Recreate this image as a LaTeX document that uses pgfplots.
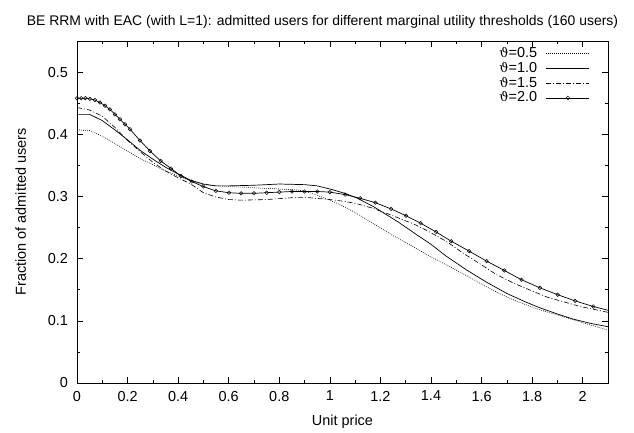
\documentclass[border=0pt]{standalone}
\usepackage{fontspec}
\setmainfont{Liberation Sans}
\newfontfamily\symfont{DejaVu Serif}
\usepackage{pgfplots}
\pgfplotsset{compat=1.18}
\newcommand{\vth}{{\symfont\fontsize{13}{15}\selectfont ϑ}}
\begin{document}
\fontsize{14.5}{16}\selectfont
\begin{tikzpicture}
\begin{axis}[
  scale only axis,
  width=531bp, height=342bp,
  xmin=0, xmax=2.1, ymin=0, ymax=0.55,
  xtick={0,0.2,0.4,0.6,0.8,1,1.2,1.4,1.6,1.8,2},
  xticklabels={0,0.2,0.4,0.6,0.8,1,1.2,1.4,1.6,1.8,2},
  ytick={0,0.1,0.2,0.3,0.4,0.5},
  yticklabels={0,0.1,0.2,0.3,0.4,0.5},
  minor x tick num=1, minor y tick num=1,
  major tick length=6bp, minor tick length=3bp,
  tick align=inside,
  axis line style={line width=0.6pt},
  every tick/.style={line width=0.5pt, black},
  tick label style={font=\fontsize{14.5}{16}\selectfont},
  xticklabel style={yshift=-3bp},
  yticklabel style={xshift=-4bp},
  /pgf/number format/assume math mode=true,
  title={BE RRM with EAC (with L=1): admitted users for different marginal utility thresholds (160 users)},
  title style={font=\fontsize{14}{16}\selectfont, xshift=-20bp, yshift=2bp},
  xlabel={Unit price}, ylabel={Fraction of admitted users},
  label style={font=\fontsize{14.5}{16}\selectfont},
  xlabel style={yshift=-4bp},
  ylabel style={yshift=12bp},
  legend style={draw=none, fill=none, at={(0.968,0.99)}, anchor=north east,
    font=\fontsize{14.5}{15}\selectfont, row sep=-1.5bp, inner sep=1bp,
    /tikz/every odd column/.append style={column sep=7bp}},
  legend cell align=right,
  legend plot pos=right,
  legend image code/.code={\draw[mark=none] (0bp,0bp) -- (43bp,0bp); \draw[solid] plot coordinates {(21.5bp,0bp)};},
]
\coordinate (sw) at (rel axis cs:0,0);
\coordinate (ne) at (rel axis cs:1,1);
\addplot[black, line width=0.6pt, dash pattern=on 0.8bp off 1.2bp] coordinates {
(0,0.407)(0.05,0.406)(0.1,0.397)(0.15,0.385)(0.2,0.373)(0.25,0.361)(0.3,0.351)(0.35,0.341)(0.4,0.333)(0.45,0.325)(0.5,0.319)(0.55,0.317)(0.6,0.316)(0.7,0.314)(0.8,0.312)(0.88,0.310)(0.93,0.305)(1.0,0.294)(1.05,0.285)(1.1,0.274)(1.17,0.257)(1.25,0.237)(1.33,0.219)(1.4,0.203)(1.46,0.190)(1.53,0.175)(1.6,0.159)(1.66,0.146)(1.73,0.133)(1.8,0.122)(1.86,0.114)(1.93,0.106)(2.0,0.097)(2.05,0.091)(2.1,0.085)};
\addlegendentry{\vth=0.5}
\addplot[black, line width=0.7pt] coordinates {
(0,0.432)(0.05,0.432)(0.1,0.422)(0.15,0.407)(0.2,0.391)(0.25,0.374)(0.3,0.360)(0.35,0.347)(0.4,0.336)(0.45,0.326)(0.5,0.320)(0.55,0.317)(0.6,0.317)(0.7,0.318)(0.8,0.320)(0.9,0.319)(0.95,0.317)(1.0,0.312)(1.06,0.305)(1.11,0.297)(1.175,0.283)(1.27,0.259)(1.345,0.238)(1.4,0.223)(1.46,0.204)(1.54,0.182)(1.62,0.162)(1.7,0.144)(1.77,0.131)(1.83,0.121)(1.9,0.111)(1.96,0.103)(2.03,0.096)(2.1,0.0905)};
\addlegendentry{\vth=1.0}
\addplot[black, line width=0.6pt, dash pattern=on 5bp off 2bp on 1bp off 2bp] coordinates {
(0,0.443)(0.05,0.439)(0.1,0.429)(0.15,0.411)(0.2,0.390)(0.25,0.372)(0.3,0.355)(0.35,0.341)(0.4,0.330)(0.45,0.320)(0.5,0.306)(0.55,0.299)(0.6,0.295)(0.65,0.294)(0.75,0.295)(0.85,0.298)(0.92,0.298)(1.0,0.295)(1.06,0.292)(1.11,0.288)(1.17,0.281)(1.23,0.272)(1.28,0.264)(1.33,0.256)(1.38,0.246)(1.46,0.228)(1.53,0.208)(1.6,0.190)(1.66,0.174)(1.73,0.160)(1.8,0.148)(1.86,0.138)(1.93,0.130)(1.99,0.123)(2.05,0.118)(2.1,0.1136)};
\addlegendentry{\vth=1.5}
\addplot[black, line width=0.7pt, mark=o, mark size=1.8bp, mark options={solid, fill=white, line width=0.5pt}, mark indices={1,...,45}] coordinates {
(0,0.458)(0.017,0.458)(0.033,0.458)(0.051,0.457)(0.071,0.455)(0.091,0.451)(0.111,0.446)(0.130,0.440)(0.150,0.432)(0.170,0.424)(0.190,0.416)(0.210,0.408)(0.249,0.390)(0.289,0.373)(0.331,0.357)(0.372,0.345)(0.411,0.333)(0.454,0.324)(0.499,0.316)(0.549,0.309)(0.601,0.306)(0.649,0.305)(0.70,0.305)(0.75,0.306)(0.80,0.307)(0.85,0.308)(0.90,0.308)(0.95,0.308)(1.0,0.307)(1.06,0.303)(1.12,0.297)(1.18,0.290)(1.242,0.280)(1.301,0.269)(1.359,0.257)(1.42,0.243)(1.48,0.228)(1.551,0.212)(1.62,0.196)(1.69,0.181)(1.758,0.166)(1.831,0.153)(1.901,0.142)(1.97,0.132)(2.042,0.123)(2.1,0.117)};
\addlegendentry{\vth=2.0}
\end{axis}
\pgfresetboundingbox
\path ([xshift=-77bp,yshift=-50bp]sw) rectangle ([xshift=26bp,yshift=41bp]ne);
\end{tikzpicture}
\end{document}
